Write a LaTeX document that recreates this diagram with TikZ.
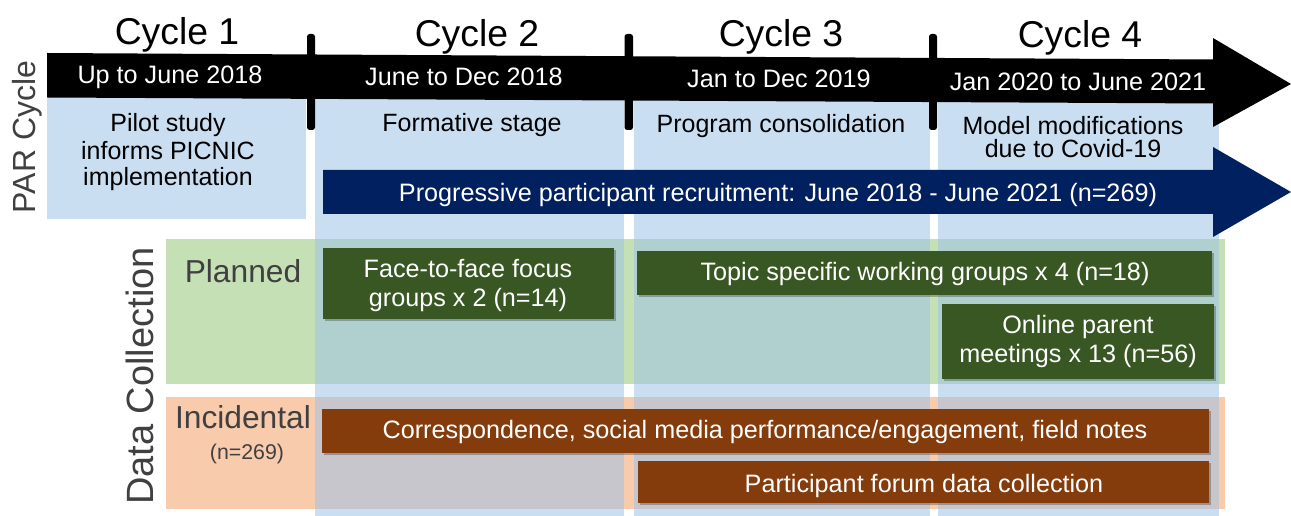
\documentclass[tikz,border=0pt]{standalone}
\usepackage{fontspec}
\setmainfont{Liberation Sans}
\usetikzlibrary{shadows}
\definecolor{colblue}{HTML}{9DC3E6}
\definecolor{bandgreen}{HTML}{C5E0B4}
\definecolor{bandorange}{HTML}{F8CBAD}
\definecolor{boxgreen}{HTML}{385723}
\definecolor{boxbrown}{HTML}{843C0C}
\definecolor{navyblue}{HTML}{002060}
\definecolor{labelgray}{HTML}{404040}
\begin{document}
\begin{tikzpicture}[x=0.75pt,y=-0.75pt,
  cyclabel/.style={font=\fontsize{28}{34}\selectfont, anchor=base, inner sep=0pt},
  datelabel/.style={text=white, font=\fontsize{18.9}{22}\selectfont, anchor=base, inner sep=0pt},
  coltext/.style={text=black, font=\fontsize{18.75}{22}\selectfont, anchor=base, inner sep=0pt},
  boxtext/.style={text=white, font=\fontsize{18.9}{22}\selectfont, anchor=base, inner sep=0pt},
  rowlabel/.style={text=labelgray, font=\fontsize{23.8}{28}\selectfont, anchor=base, inner sep=0pt},
  sidelabel/.style={text=labelgray, anchor=base, inner sep=0pt, rotate=90},
  column/.style={fill=colblue, fill opacity=0.55},
  tickmark/.style={fill=black, rounded corners=2pt},
  boxshadow/.style={drop shadow={shadow xshift=1.6pt, shadow yshift=-1.6pt, opacity=0.25, fill=black}},
  greenbox/.style={fill=boxgreen, boxshadow},
  brownbox/.style={fill=boxbrown, boxshadow}]
\useasboundingbox (0,0) rectangle (1291,516);

% data collection bands
\fill[bandgreen] (166,239) rectangle (1225,384);
\fill[bandorange] (166,397) rectangle (1225,509);

% cycle columns
\fill[column] (47,97) rectangle (306,219);
\fill[column] (315,97) rectangle (624,516);
\fill[column] (634,97) rectangle (930,516);
\fill[column] (938,97) rectangle (1219,516);

% black timeline arrow
\fill[black] (47,53) -- (1213,59.5) -- (1213,38) -- (1291,84) -- (1213,127)
  -- (1213,103.5) -- (47,97.5) -- cycle;
\fill[tickmark] (307,34) rectangle (315,130);
\fill[tickmark] (624.5,34) rectangle (633,130);
\fill[tickmark] (929,34) rectangle (937,130);

% recruitment arrow
\fill[navyblue] (323,170) -- (1213,170) -- (1213,147) -- (1291,192) -- (1213,237)
  -- (1213,214) -- (323,214) -- cycle;

% boxes
\fill[greenbox] (323,248) rectangle (614,319);
\fill[greenbox] (637,251) rectangle (1212,295);
\fill[greenbox] (942,304) rectangle (1214,379);
\fill[brownbox] (322,409) rectangle (1209,453);
\fill[brownbox] (638,461) rectangle (1209,503);

% texts
\node[cyclabel] (cy1) at (177,45) {Cycle 1};
\node[cyclabel] (cy2) at (477,47) {Cycle 2};
\node[cyclabel] (cy3) at (781,47) {Cycle 3};
\node[cyclabel] (cy4) at (1080,48) {Cycle 4};

\node[datelabel] (d1) at (170,84) {Up to June 2018};
\node[datelabel] (d2) at (464,86) {June to Dec 2018};
\node[datelabel] (d3) at (779,88) {Jan to Dec 2019};
\node[datelabel] (d4) at (1078,91) {Jan 2020 to June 2021};

\node[coltext] (p1a) at (168,132) {Pilot study};
\node[coltext] (p1b) at (168,160) {informs PICNIC};
\node[coltext] (p1c) at (168,186) {implementation};
\node[coltext] (p2) at (472,132) {Formative stage};
\node[coltext] (p3) at (781,133) {Program consolidation};
\node[coltext] (p4a) at (1073,135) {Model modifications};
\node[coltext] (p4b) at (1073,158) {due to Covid-19};

\node[boxtext] (recruit) at (778,202) {Progressive participant recruitment: June 2018 - June 2021 (n=269)};

\node[boxtext] (ff1) at (468,278) {Face-to-face focus};
\node[boxtext] (ff2) at (468,307) {groups x 2 (n=14)};
\node[boxtext] (topic) at (925,281) {Topic specific working groups x 4 (n=18)};
\node[boxtext] (on1) at (1078,334) {Online parent};
\node[boxtext] (on2) at (1078,363) {meetings x 13 (n=56)};
\node[boxtext] (corr) at (765,438) {Correspondence, social media performance/engagement, field notes};
\node[boxtext] (forum) at (924,492) {Participant forum data collection};

\node[rowlabel] (planned) at (243,283) {Planned};
\node[rowlabel] (incid) at (243,428) {Incidental};
\node[rowlabel, font=\fontsize{16}{19}\selectfont] (incidn) at (247,459) {(n=269)};

\node[sidelabel, font=\fontsize{24}{28}\selectfont] (par) at (36,137) {PAR Cycle};
\node[sidelabel, font=\fontsize{28.5}{34}\selectfont] (dc) at (153,376) {Data Collection};
\end{tikzpicture}
\end{document}
